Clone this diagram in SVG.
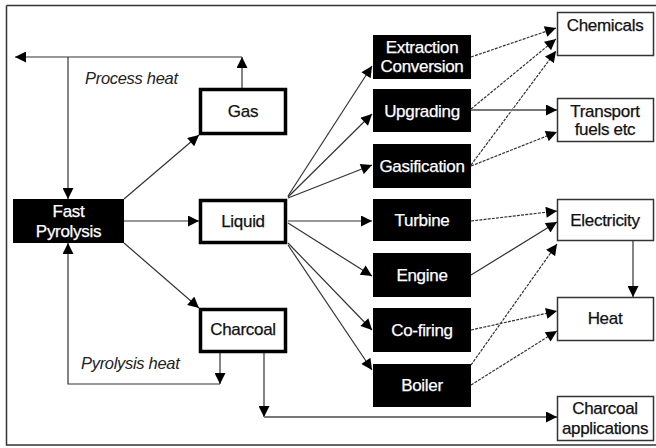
<svg xmlns="http://www.w3.org/2000/svg" width="656" height="448" viewBox="0 0 656 448">
<defs>
<marker id="ah" viewBox="0 0 10 10" refX="10" refY="5" markerWidth="12" markerHeight="11" markerUnits="userSpaceOnUse" orient="auto"><path d="M0,0 L10,5 L0,10 Z" fill="#000"/></marker>
<style>
.t{font-family:"Liberation Sans",Arial,sans-serif;font-size:17px;text-anchor:middle;dominant-baseline:central;letter-spacing:-0.3px}
.w{fill:#fff;stroke:#fff;stroke-width:0.25}
.k{fill:#111;stroke:#111;stroke-width:0.25}
.it{font-family:"Liberation Sans",Arial,sans-serif;font-size:16.5px;font-style:italic;fill:#222;letter-spacing:-0.3px}
.blk{fill:#000}
.thk{fill:#fff;stroke:#000;stroke-width:3.5}
.thn{fill:#fff;stroke:#333;stroke-width:1.5}
.c{fill:none;stroke:#333;stroke-width:1.2}
.d{fill:none;stroke:#333;stroke-width:1.2;stroke-dasharray:3 1.2}
.g{fill:none;stroke:#777;stroke-width:2}
.a{marker-end:url(#ah)}
</style>
</defs>
<rect x="0" y="0" width="656" height="448" fill="#fff"/>
<path d="M6.5,5.5 H660 M6.5,5.5 V445 H660" fill="none" stroke="#333" stroke-width="1.5"/>
<g id="connectors">
<path class="c a" d="M242,88 V57"/>
<path class="c a" d="M242,57 H15"/>
<path class="c a" d="M68,57 V199"/>
<path class="c a" d="M124,199 L199,135"/>
<path class="c a" d="M124,221 H199"/>
<path class="c a" d="M124,243 L199,308"/>
<path class="c a" d="M220,352 V384"/>
<path class="c a" d="M220,384 H68 V243"/>
<path class="c a" d="M264,352 V417"/>
<path class="g a" d="M264,417 H557"/>
<path class="c a" d="M288,196 L372,66"/>
<path class="c a" d="M288,197 L372,114"/>
<path class="c a" d="M288,198 L372,165"/>
<path class="c a" d="M288,221 H372"/>
<path class="c a" d="M288,223 L372,276"/>
<path class="c a" d="M288,243 L372,330"/>
<path class="c a" d="M288,245 L372,370"/>
<path class="d a" d="M471,57 L556,28"/>
<path class="d a" d="M471,109 L556,39"/>
<path class="d a" d="M471,165 L556,51"/>
<path class="g a" d="M471,110 H557"/>
<path class="d a" d="M471,166 L557,132"/>
<path class="d a" d="M471,221 L557,211"/>
<path class="c a" d="M471,275 L557,222"/>
<path class="d a" d="M471,365 L557,244"/>
<path class="c a" d="M633,241 V297"/>
<path class="d a" d="M471,330 L557,311"/>
<path class="d a" d="M471,385 L557,331"/>
</g>
<text class="it" x="85" y="84">Process heat</text>
<text class="it" x="81" y="369">Pyrolysis heat</text>
<g id="fast-pyrolysis"><rect class="blk" x="13" y="199" width="111" height="44"/><text class="t w" x="68.5" y="211">Fast</text><text class="t w" x="68.5" y="231">Pyrolysis</text></g>
<g id="gas"><rect class="thk" x="200.5" y="89.5" width="85" height="44"/><text class="t k" x="243" y="111">Gas</text></g>
<g id="liquid"><rect class="thk" x="200.5" y="200.5" width="85" height="42"/><text class="t k" x="243" y="221">Liquid</text></g>
<g id="charcoal"><rect class="thk" x="200.5" y="309.5" width="85" height="42"/><text class="t k" x="243" y="329">Charcoal</text></g>
<g id="extraction"><rect class="blk" x="373" y="35" width="98" height="44"/><text class="t w" x="422" y="47">Extraction</text><text class="t w" x="422" y="66">Conversion</text></g>
<g id="upgrading"><rect class="blk" x="373" y="89" width="98" height="43"/><text class="t w" x="422" y="111">Upgrading</text></g>
<g id="gasification"><rect class="blk" x="373" y="144" width="98" height="44"/><text class="t w" x="422" y="166">Gasification</text></g>
<g id="turbine"><rect class="blk" x="373" y="199" width="98" height="42"/><text class="t w" x="422" y="220">Turbine</text></g>
<g id="engine"><rect class="blk" x="373" y="253" width="98" height="44"/><text class="t w" x="422" y="275">Engine</text></g>
<g id="co-firing"><rect class="blk" x="373" y="308" width="98" height="44"/><text class="t w" x="422" y="330">Co-firing</text></g>
<g id="boiler"><rect class="blk" x="373" y="364" width="98" height="43"/><text class="t w" x="422" y="385">Boiler</text></g>
<g id="chemicals"><rect class="thn" x="557.5" y="12.5" width="96" height="43"/><text class="t k" x="605" y="25">Chemicals</text></g>
<g id="transport"><rect class="thn" x="557.5" y="98.5" width="96" height="43"/><text class="t k" x="605" y="111">Transport</text><text class="t k" x="605" y="129">fuels etc</text></g>
<g id="electricity"><rect class="thn" x="557.5" y="199.5" width="96" height="41"/><text class="t k" x="605" y="220">Electricity</text></g>
<g id="heat"><rect class="thn" x="557.5" y="297.5" width="96" height="43"/><text class="t k" x="605" y="318">Heat</text></g>
<g id="charcoal-apps"><rect class="thn" x="557.5" y="396.5" width="96" height="44"/><text class="t k" x="605" y="408">Charcoal</text><text class="t k" x="605" y="428">applications</text></g>
</svg>
